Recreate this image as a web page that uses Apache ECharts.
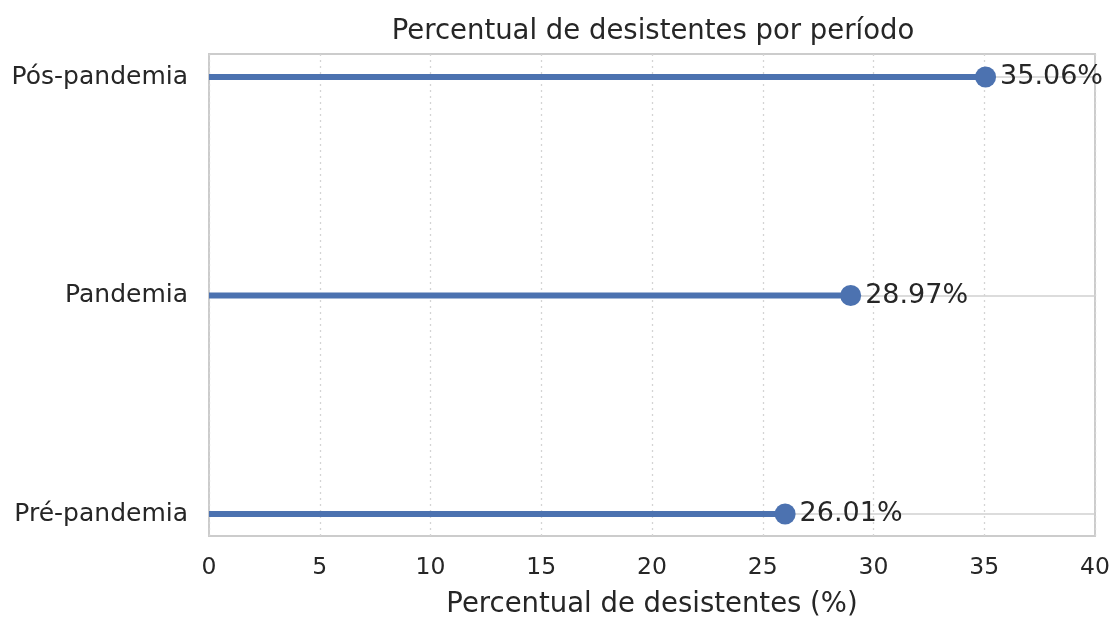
<!DOCTYPE html>
<html>
<head>
<meta charset="utf-8">
<script src="https://cdn.jsdelivr.net/npm/echarts@6/dist/echarts.min.js"></script>
<style>
html,body{margin:0;padding:0;background:#fff;}
#chart{width:1113px;height:618px;}
</style>
</head>
<body>
<div id="chart"></div>
<script>
const categories = ['Pré-pandemia', 'Pandemia', 'Pós-pandemia'];
const values = [26.01, 28.97, 35.06];
const xTicks = [0, 5, 10, 15, 20, 25, 30, 35, 40];
const titleText = 'Percentual de desistentes por período';
const xLabel = 'Percentual de desistentes (%)';

const FONT = 'DejaVu Sans';
const TXT = '#262626';
const BLUE = '#4c72b0';

const chart = echarts.init(document.getElementById('chart'), null, {renderer: 'canvas'});
chart.setOption({
  animation: false,
  backgroundColor: '#ffffff',
  textStyle: {fontFamily: FONT},
  title: {
    text: titleText, left: 653, top: 18, padding: 0, textAlign: 'center',
    textStyle: {fontFamily: FONT, fontSize: 27.5, fontWeight: 'normal', color: TXT}
  },
  grid: [
    {left: 209, right: 18, top: 77, bottom: 104, containLabel: false, outerBoundsMode: 'none'},
    {left: 209, right: 18, top: 54, bottom: 82, show: true, borderColor: '#cccccc', borderWidth: 2,
     backgroundColor: 'transparent', containLabel: false, outerBoundsMode: 'none'}
  ],
  xAxis: [
    {gridIndex: 0, type: 'value', min: xTicks[0], max: xTicks[xTicks.length - 1], interval: 5, show: false},
    {gridIndex: 1, type: 'value', min: xTicks[0], max: xTicks[xTicks.length - 1], interval: 5,
     axisLine: {show: false}, axisTick: {show: false},
     axisLabel: {fontFamily: FONT, fontSize: 23.5, color: TXT, margin: 20},
     splitLine: {show: true, lineStyle: {color: '#d4d4d4', width: 1.3, type: [2, 4]}},
     name: xLabel, nameLocation: 'middle', nameGap: 55,
     nameTextStyle: {fontFamily: FONT, fontSize: 27.5, color: TXT}}
  ],
  yAxis: [
    {gridIndex: 0, type: 'category', data: categories, boundaryGap: false,
     axisLine: {show: false}, axisTick: {show: false},
     axisLabel: {fontFamily: FONT, fontSize: 25, color: TXT, margin: 21},
     splitLine: {show: true, lineStyle: {color: '#d0d0d0', width: 1.5}}},
    {gridIndex: 1, type: 'value', min: 0, max: 1, show: false, splitLine: {show: false}}
  ],
  series: [
    {type: 'bar', xAxisIndex: 0, yAxisIndex: 0, data: values, barWidth: 6,
     itemStyle: {color: BLUE}, silent: true, z: 2},
    {type: 'scatter', xAxisIndex: 0, yAxisIndex: 0,
     data: values.map((v, i) => [v, categories[i]]),
     symbol: 'circle', symbolSize: 21, itemStyle: {color: BLUE, opacity: 1}, z: 3,
     label: {show: true, position: 'right', distance: 4,
       formatter: p => p.value[0].toFixed(2) + '%',
       fontFamily: FONT, fontSize: 27, color: TXT}}
  ]
});
</script>
</body>
</html>
